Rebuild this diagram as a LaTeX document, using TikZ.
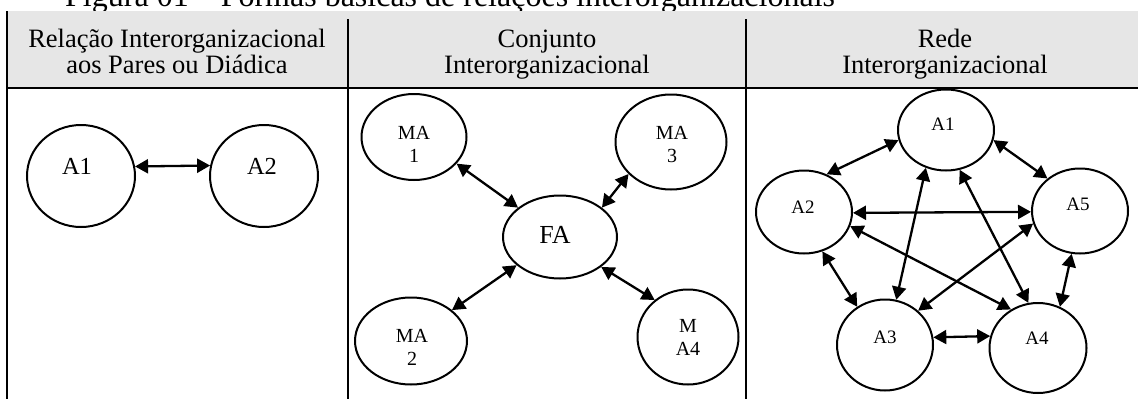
\documentclass[tikz,border=0pt]{standalone}
\usepackage{fontspec}
\setmainfont{Liberation Serif}
\usetikzlibrary{shapes.geometric,arrows.meta}
\definecolor{headgray}{RGB}{230,230,230}
\begin{document}
\begin{tikzpicture}[x=1pt,y=-1pt,
  org/.style={draw, ellipse, line width=2pt, inner sep=0pt},
  link/.style={line width=2.3pt, {Triangle[length=13pt,width=14pt]}-{Triangle[length=13pt,width=14pt]}},
  rule/.style={line width=1.2pt},
  lbl/.style={anchor=base, inner sep=0pt},
  head/.style={lbl, font=\fontsize{26.5}{26}\selectfont},
  big/.style={lbl, font=\fontsize{24.5}{28}\selectfont},
  mid/.style={lbl, font=\fontsize{20}{23}\selectfont},
  small/.style={lbl, font=\fontsize{19}{22}\selectfont},
]
\useasboundingbox (0,0) rectangle (1138,399);
\clip (0,0) rectangle (1138,399);

% caption above the table
\node[lbl, anchor=base west, font=\fontsize{32}{36}\selectfont] (caption) at (65,6)
  {Figura 01 -- Formas básicas de relações interorganizacionais};

% table frame and header
\fill[headgray] (7,11) rectangle (1138,88);
\draw[rule] (7,11) -- (7,399);
\draw[rule] (7,88) -- (1138,88);
\draw[rule] (348,19) -- (348,399);
\draw[rule] (746,19) -- (746,399);

\node[head] (h1) at (177,47) {\begin{tabular}[t]{@{}c@{}}Relação Interorganizacional\\aos Pares ou Diádica\end{tabular}};
\node[head] (h2) at (547,47) {\begin{tabular}[t]{@{}c@{}}Conjunto\\Interorganizacional\end{tabular}};
\node[head] (h3) at (945,47) {\begin{tabular}[t]{@{}c@{}}Rede\\Interorganizacional\end{tabular}};

% dyadic relation
\node[org, minimum width=108pt, minimum height=102pt] (la1) at (81,176) {};
\node[org, minimum width=108pt, minimum height=102pt] (la2) at (264,176) {};
\node[big] (la1t) at (77,174) {A1};
\node[big] (la2t) at (262,174) {A2};
\draw[link] (la1.10.5) -- (la2.169.5);

% interorganizational set
\node[org, minimum width=105pt, minimum height=86pt] (ma1) at (414,137) {};
\node[org, minimum width=111pt, minimum height=95pt] (ma3) at (671,142) {};
\node[org, minimum width=114pt, minimum height=83pt] (fa) at (560,237) {};
\node[org, minimum width=112pt, minimum height=87pt] (ma2) at (411,341) {};
\node[org, minimum width=101pt, minimum height=95pt] (ma4) at (688,337) {};
\node[mid] (ma1t) at (414,139) {\begin{tabular}[t]{@{}c@{}}MA\\1\end{tabular}};
\node[mid] (ma3t) at (672,139) {\begin{tabular}[t]{@{}c@{}}MA\\3\end{tabular}};
\node[mid] (ma2t) at (412,342) {\begin{tabular}[t]{@{}c@{}}MA\\2\end{tabular}};
\node[mid] (ma4t) at (688,332) {\begin{tabular}[t]{@{}c@{}}M\\A4\end{tabular}};
\node[lbl, font=\fontsize{26}{30}\selectfont] (fat) at (555,243) {FA};
\draw[link] (ma1.-32.4) -- (fa.145.1);
\draw[link] (ma3.217.6) -- (fa.35.9);
\draw[link] (ma2.37.1) -- (fa.213.7);
\draw[link] (fa.-36.2) -- (ma4.132.7);

% interorganizational network
\node[org, minimum width=96pt, minimum height=81pt] (r1) at (946,130) {};
\node[org, minimum width=96pt, minimum height=83pt] (r2) at (804,212) {};
\node[org, minimum width=96pt, minimum height=85pt] (r5) at (1080,211) {};
\node[org, minimum width=96pt, minimum height=91pt] (r3) at (885,345) {};
\node[org, minimum width=97pt, minimum height=90pt] (r4) at (1038,348) {};
\node[small] (r1t) at (943,130) {A1};
\node[small] (r2t) at (803,213) {A2};
\node[small] (r5t) at (1078,210) {A5};
\node[small] (r3t) at (885,343) {A3};
\node[small] (r4t) at (1037,344) {A4};
\draw[link] (r2.59.7) -- (r1.192.5);
\draw[link] (r1.-12) -- (r5.135);
\draw[link] (r2.-1) -- (r5.181);
\draw[link] (r2.-17.4) -- (r4.125.5);
\draw[link] (r1.242.3) -- (r3.76.5);
\draw[link] (r1.-71.6) -- (r4.102.4);
\draw[link] (r5.195.1) -- (r3.46.5);
\draw[link] (r5.259) -- (r4.62.9);
\draw[link] (r2.-65.1) -- (r3.126.1);
\draw[link] (r3.9.5) -- (r4.166.6);
\end{tikzpicture}
\end{document}
